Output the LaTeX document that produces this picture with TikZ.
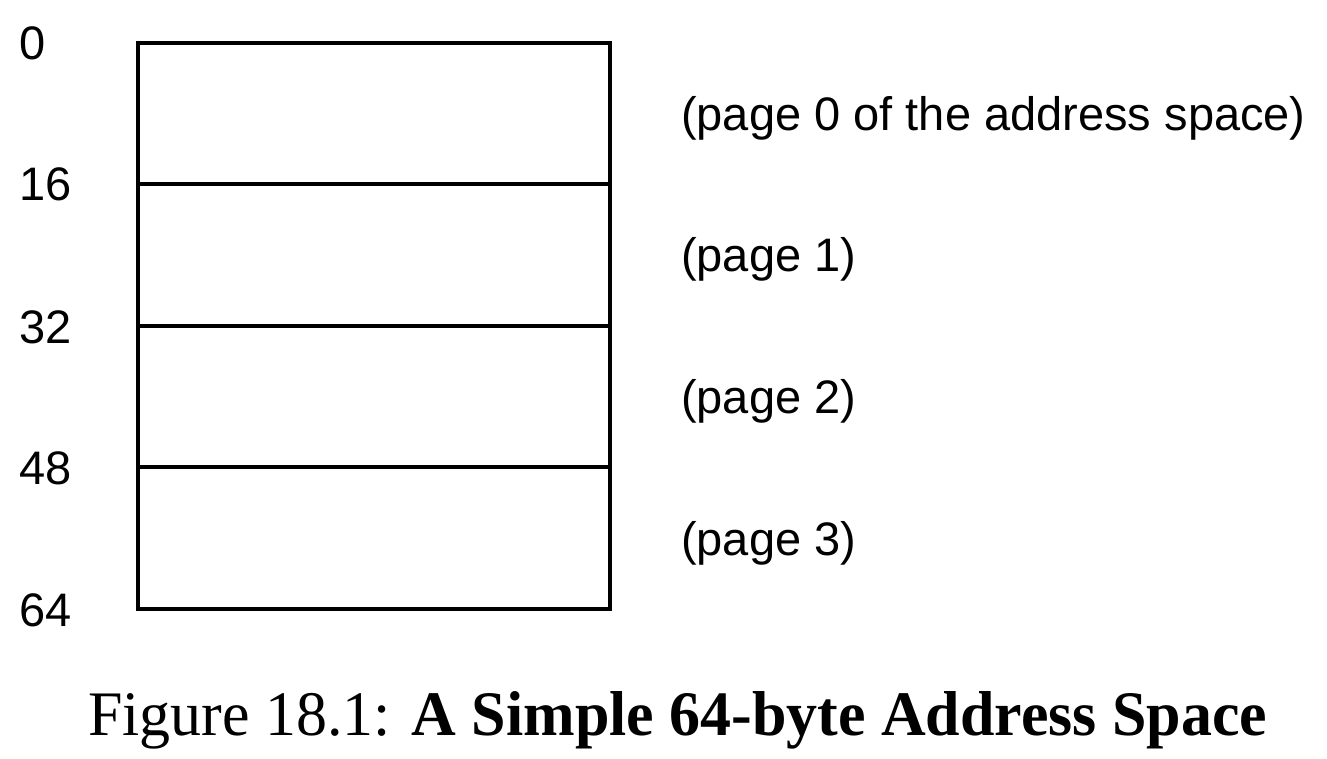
\documentclass[tikz,border=0pt]{standalone}
\usepackage{fontspec}
\setmainfont{Liberation Serif}
\newfontfamily\labelfont{Liberation Sans}
\begin{document}
\begin{tikzpicture}[x=1pt,y=-1pt,
  addr/.style={anchor=base west,inner sep=0pt,font=\labelfont\fontsize{47}{56}\selectfont},
  pagelbl/.style={anchor=base west,inner sep=0pt,font=\labelfont\fontsize{47}{56}\selectfont},
  captionstyle/.style={anchor=base west,inner sep=0pt,font=\fontsize{61}{70}\selectfont},
  frame/.style={line width=3.8pt}]
\useasboundingbox (0,0) rectangle (1327,759);
\coordinate (tl) at (138,43);
\coordinate (br) at (610,609);
\draw[frame] (tl) rectangle (br);
\coordinate (l1) at (138,184); \coordinate (r1) at (610,184);
\coordinate (l2) at (138,326); \coordinate (r2) at (610,326);
\coordinate (l3) at (138,467); \coordinate (r3) at (610,467);
\draw[frame] (l1) -- (r1);
\draw[frame] (l2) -- (r2);
\draw[frame] (l3) -- (r3);
\node[addr] (a0) at (19,60) {0};
\node[addr] (a16) at (19,201) {16};
\node[addr] (a32) at (19,343) {32};
\node[addr] (a48) at (19,484) {48};
\node[addr] (a64) at (19,626) {64};
\node[pagelbl] (p0) at (681,131) {(page 0 of the address space)};
\node[pagelbl] (p1) at (681,272) {(page 1)};
\node[pagelbl] (p2) at (681,413) {(page 2)};
\node[pagelbl] (p3) at (681,555) {(page 3)};
\node[captionstyle] (caption) at (88,735) {\resizebox{1179pt}{44pt}{Figure 18.1: \textbf{A Simple 64-byte Address Space}}};
\end{tikzpicture}
\end{document}
